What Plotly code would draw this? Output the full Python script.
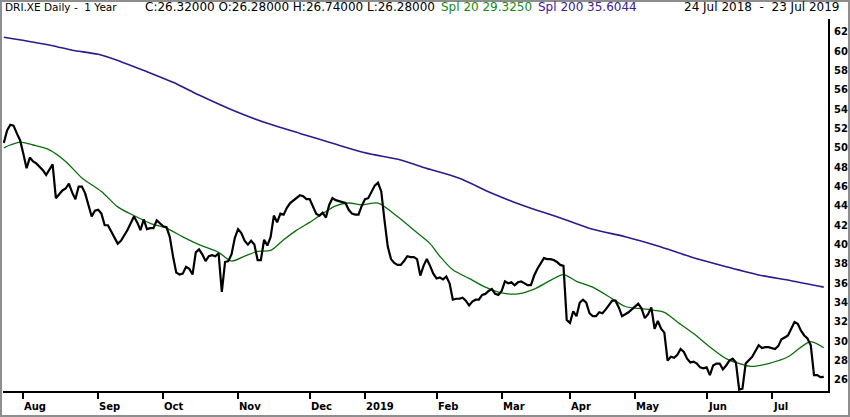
import pandas as pd
import plotly.graph_objects as go

# ---------------- data ----------------
start_date = "2018-07-24"
end_date = "2019-07-23"
holidays = ["2018-12-24", "2018-12-25", "2018-12-26", "2018-12-31", "2019-01-01",
            "2019-04-19", "2019-04-22", "2019-05-01"]

# daily close (one value per trading day)
price = [50.5, 51.8, 52.4, 52.3, 51.5, 50.8, 49.4, 47.9, 49.0, 48.6,
         48.4, 48.1, 47.7, 47.2, 47.8, 48.3, 44.8, 45.2, 45.6, 45.8,
         46.3, 45.4, 44.7, 46.0, 46.0, 45.3, 44.0, 42.9, 43.5, 43.6,
         43.2, 42.0, 42.0, 41.4, 40.8, 40.1, 40.4, 40.9, 41.5, 42.2,
         42.9, 42.3, 41.5, 42.6, 41.6, 41.7, 41.7, 42.5, 42.2, 41.9,
         41.8, 40.8, 38.8, 37.1, 36.9, 37.0, 37.7, 37.5, 36.9, 39.2,
         39.5, 39.0, 38.3, 38.8, 38.9, 38.8, 39.1, 35.1, 38.2, 38.3,
         39.0, 40.7, 41.6, 41.2, 40.4, 40.0, 40.4, 40.0, 38.4, 38.4,
         40.5, 39.9, 40.8, 43.0, 42.3, 43.2, 43.1, 43.8, 44.3, 44.6,
         44.9, 45.1, 45.0, 44.7, 44.7, 44.0, 43.2, 43.0, 43.3, 42.8,
         44.1, 44.8, 44.6, 44.5, 44.4, 44.3, 43.6, 43.2, 43.1, 43.1,
         44.0, 44.7, 44.8, 45.4, 46.1, 46.4, 45.5, 42.5, 39.8, 38.5,
         38.1, 37.9, 37.9, 38.3, 38.8, 38.7, 38.7, 38.5, 36.8, 37.8,
         38.5, 37.8, 37.0, 36.5, 36.6, 36.4, 36.7, 36.0, 34.3, 34.4,
         34.4, 34.5, 34.2, 33.7, 34.1, 34.3, 34.3, 34.8, 34.9, 35.2,
         35.4, 34.9, 34.8, 35.2, 36.2, 36.0, 36.1, 35.8, 36.1, 36.2,
         36.0, 35.8, 35.8, 36.8, 37.5, 38.1, 38.6, 38.5, 38.5, 38.4,
         38.2, 37.9, 37.8, 32.2, 31.9, 33.1, 32.6, 34.0, 34.3, 34.0,
         32.9, 32.6, 32.6, 33.0, 32.9, 33.3, 33.8, 34.2, 34.2, 33.5,
         32.6, 32.8, 33.0, 33.3, 33.6, 33.9, 33.4, 32.4, 32.8, 33.5,
         31.3, 32.1, 31.3, 30.9, 28.0, 28.4, 28.3, 28.6, 29.2, 28.9,
         28.2, 27.8, 27.9, 27.7, 27.3, 27.2, 27.3, 26.5, 27.5, 27.7,
         27.7, 27.1, 27.5, 28.0, 28.2, 27.8, 25.0, 25.1, 27.7, 28.1,
         28.4, 29.0, 29.6, 29.3, 29.4, 29.4, 29.3, 29.2, 29.5, 30.2,
         30.4, 30.6, 31.3, 32.0, 31.8, 31.1, 30.6, 30.3, 29.6, 26.5,
         26.5, 26.3, 26.32]

# Spl 20 (green) read at sample dates
spl20_dates = ["2018-07-24", "2018-07-26", "2018-07-31", "2018-08-06", "2018-08-13",
               "2018-08-20", "2018-08-27", "2018-09-04", "2018-09-11", "2018-09-18",
               "2018-09-25", "2018-10-02", "2018-10-09", "2018-10-16", "2018-10-24",
               "2018-10-30", "2018-11-05", "2018-11-09", "2018-11-15", "2018-11-21",
               "2018-11-27", "2018-12-03", "2018-12-07", "2018-12-13", "2018-12-19",
               "2018-12-28", "2019-01-08", "2019-01-16", "2019-01-23", "2019-01-30",
               "2019-02-04", "2019-02-08", "2019-02-15", "2019-02-22", "2019-03-01",
               "2019-03-08", "2019-03-15", "2019-03-22", "2019-03-28", "2019-04-03",
               "2019-04-10", "2019-04-18", "2019-04-26", "2019-05-03", "2019-05-10",
               "2019-05-15", "2019-05-21", "2019-05-28", "2019-06-04", "2019-06-11",
               "2019-06-18", "2019-06-21", "2019-06-28", "2019-07-08", "2019-07-12",
               "2019-07-17", "2019-07-23"]
spl20_vals = [50.0, 50.3, 50.6, 50.3, 49.8,
              48.6, 46.9, 45.5, 43.9, 43.0,
              42.2, 41.7, 40.8, 40.0, 39.2,
              38.3, 38.8, 39.3, 39.4, 40.5,
              41.5, 42.3, 43.2, 44.0, 44.3,
              44.1, 44.3, 42.9, 41.5, 40.1,
              38.8, 37.4, 36.5, 35.6, 35.0,
              34.9, 35.4, 36.3, 36.9, 36.2,
              35.6, 34.4, 33.6, 33.4, 33.2,
              33.0, 32.0, 30.8, 29.4, 28.2,
              27.6, 27.4, 27.7, 28.4, 29.4,
              29.96, 29.325]

# Spl 200 (purple) read at sample dates
spl200_dates = ["2018-07-24", "2018-08-02", "2018-08-14", "2018-08-22", "2018-09-03",
                "2018-09-12", "2018-09-24", "2018-10-04", "2018-10-16", "2018-10-30",
                "2018-11-14", "2018-11-28", "2018-12-12", "2019-01-02", "2019-01-17",
                "2019-01-28", "2019-02-12", "2019-02-26", "2019-03-12", "2019-03-26",
                "2019-04-10", "2019-04-26", "2019-05-13", "2019-05-27", "2019-06-11",
                "2019-06-25", "2019-07-09", "2019-07-23"]
spl200_vals = [61.44, 61.06, 60.57, 60.10, 59.68,
               58.92, 57.88, 56.78, 55.47, 53.95,
               52.54, 51.50, 50.48, 49.50, 48.75,
               47.97, 46.86, 45.31, 44.00, 42.89,
               41.58, 40.82, 39.86, 38.75, 37.72,
               36.86, 36.27, 35.6044]

y_ticks = list(range(26, 63, 2))

header_left = "DRI.XE Daily -\u00a0 1 Year"
header_ohlc = "C:26.32000 O:26.28000 H:26.74000 L:26.28000"
header_s20 = "Spl 20 29.3250"
header_s200 = "Spl 200 35.6044"
header_range = "24 Jul 2018 \u00a0-\u00a0 23 Jul 2019"

# ---------------- calendar ----------------
dates = [d for d in pd.bdate_range(start_date, end_date) if d.strftime("%Y-%m-%d") not in holidays]
assert len(dates) == len(price)
date_index = {d.strftime("%Y-%m-%d"): i for i, d in enumerate(dates)}
xi = list(range(len(dates)))

month_pos, month_lab = [], []
for i in range(1, len(dates)):
    if dates[i].month != dates[i - 1].month:
        month_pos.append(i)
        month_lab.append(str(dates[i].year) if dates[i].month == 1 else dates[i].strftime("%b"))

# ---------------- geometry ----------------
W, H = 850, 417
ML, MR, MT, MB = 3, 22, 19, 26
PW, PH = W - ML - MR, H - MT - MB


def px2x(px):
    return (px - ML) / PW


def py2y(py):
    return (H - MB - py) / PH


FONT = "DejaVu Sans"
GREEN_LINE = "#0b6e0b"
PURPLE_LINE = "#2e1a8e"

fig = go.Figure()
fig.add_trace(go.Scatter(
    x=[date_index[d] for d in spl200_dates], y=spl200_vals, mode="lines",
    line=dict(color=PURPLE_LINE, width=1.6, shape="spline", smoothing=0.8),
    hoverinfo="skip", showlegend=False))
fig.add_trace(go.Scatter(
    x=[date_index[d] for d in spl20_dates], y=spl20_vals, mode="lines",
    line=dict(color=GREEN_LINE, width=1.3, shape="spline", smoothing=0.8),
    hoverinfo="skip", showlegend=False))
fig.add_trace(go.Scatter(
    x=xi, y=price, mode="lines",
    line=dict(color="black", width=2.2),
    showlegend=False))

annotations = []
for p, lab in zip(month_pos, month_lab):
    annotations.append(dict(
        x=p, y=py2y(406.5), xref="x", yref="paper", text=lab, showarrow=False,
        xanchor="left", yanchor="middle", xshift=-1,
        font=dict(family=FONT, size=10, color="black", weight="bold")))

hdr_y = py2y(7.5)
annotations += [
    dict(x=px2x(3), y=hdr_y, xref="paper", yref="paper", text=header_left,
         showarrow=False, xanchor="left", yanchor="middle",
         font=dict(family=FONT, size=10.5, color="black")),
    dict(x=px2x(143), y=hdr_y, xref="paper", yref="paper", text=header_ohlc,
         showarrow=False, xanchor="left", yanchor="middle",
         font=dict(family=FONT, size=12, color="black")),
    dict(x=px2x(439), y=hdr_y, xref="paper", yref="paper", text=header_s20,
         showarrow=False, xanchor="left", yanchor="middle",
         font=dict(family=FONT, size=12, color="#168a16")),
    dict(x=px2x(536), y=hdr_y, xref="paper", yref="paper", text=header_s200,
         showarrow=False, xanchor="left", yanchor="middle",
         font=dict(family=FONT, size=12, color="#3a2090")),
    dict(x=px2x(841), y=hdr_y, xref="paper", yref="paper", text=header_range,
         showarrow=False, xanchor="right", yanchor="middle",
         font=dict(family=FONT, size=12, color="black")),
]

fig.update_layout(
    width=W, height=H,
    margin=dict(l=ML, r=MR, t=MT, b=MB, pad=0),
    paper_bgcolor="white", plot_bgcolor="white",
    showlegend=False,
    annotations=annotations,
    shapes=[dict(type="rect", xref="paper", yref="paper",
                 x0=px2x(1), x1=px2x(849), y0=py2y(416), y1=py2y(1),
                 line=dict(color="#8e8e8e", width=2), layer="above")],
    xaxis=dict(
        range=[-0.25, 253.3], showgrid=False, zeroline=False,
        showline=True, linecolor="black", linewidth=2,
        tickmode="array", tickvals=month_pos, ticktext=[""] * len(month_pos),
        ticks="outside", ticklen=6, tickwidth=2, tickcolor="black",
        showticklabels=False, fixedrange=True),
    yaxis=dict(
        range=[24.86, 63.33], side="right", showgrid=False, zeroline=False,
        showline=True, linecolor="black", linewidth=2,
        tickmode="array", tickvals=y_ticks, ticktext=[str(v) for v in y_ticks],
        ticks="", ticklabelstandoff=2,
        tickfont=dict(family=FONT, size=10, color="black", weight="bold"),
        fixedrange=True),
)

fig.write_html("out.html",
               config={"displayModeBar": False},
               post_script="document.body.style.margin='0';document.body.style.overflow='hidden';")
